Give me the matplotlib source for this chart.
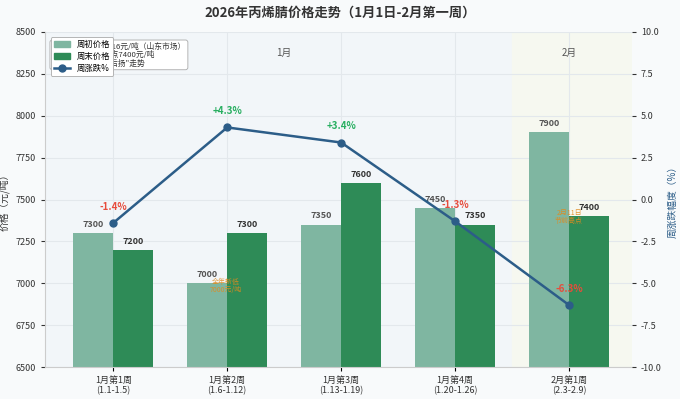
import numpy as np
import matplotlib
matplotlib.use("Agg")
import matplotlib.pyplot as plt
from matplotlib.patches import Patch
from matplotlib.lines import Line2D

plt.rcParams['font.family'] = ['Noto Sans CJK SC', 'DejaVu Sans']
plt.rcParams['axes.unicode_minus'] = False

# data
weeks = ['1月第1周\n(1.1-1.5)', '1月第2周\n(1.6-1.12)', '1月第3周\n(1.13-1.19)',
         '1月第4周\n(1.20-1.26)', '2月第1周\n(2.3-2.9)']
open_price = [7300, 7000, 7350, 7450, 7900]
close_price = [7200, 7300, 7600, 7350, 7400]
pct_change = [-1.4, 4.3, 3.4, -1.3, -6.3]

light = '#7fb6a1'
dark = '#2e8b57'
line_c = '#2c5d88'

fig = plt.figure(figsize=(6.8, 3.99), dpi=100)
fig.patch.set_facecolor('#f8fafb')
ax = fig.add_axes([0.066, 0.080, 0.863, 0.840])
ax.set_facecolor('#f2f6f9')

x = np.arange(len(weeks))
w = 0.35
ax.set_xlim(-0.6, 4.55)
ax.set_ylim(6500, 8500)

# 2月 shading
ax.axvspan(3.5, 4.55, color='#f6f8f0', zorder=0)
ax.grid(True, color='#e3e8ec', lw=0.8, zorder=0)
ax.set_axisbelow(True)

ax.bar(x - w / 2, open_price, w, color=light, zorder=2)
ax.bar(x + w / 2, close_price, w, color=dark, zorder=2)

for xi, v in zip(x, open_price):
    ax.text(xi - w / 2, v + 25, str(v), ha='center', va='bottom', fontsize=6.5,
            fontweight='bold', color='#555555', zorder=5)
for xi, v in zip(x, close_price):
    ax.text(xi + w / 2, v + 25, str(v), ha='center', va='bottom', fontsize=6.5,
            fontweight='bold', color='#333333', zorder=5)

ax.set_xticks(x)
ax.set_xticklabels(weeks, fontsize=6.5, color='#333333')
ax.set_yticks(np.arange(6500, 8501, 250))
ax.tick_params(axis='y', labelsize=6.5, colors='#333333', length=3)
ax.tick_params(axis='x', length=3)
ax.set_ylabel('价格（元/吨）', fontsize=7, color='#333333')
for s in ['top', 'right']:
    ax.spines[s].set_visible(False)
ax.spines['left'].set_color('#cccccc')
ax.spines['bottom'].set_color('#cccccc')

# month labels
ax.text(1.5, 8375, '1月', ha='center', va='center', fontsize=7, color='#555555')
ax.text(4.0, 8375, '2月', ha='center', va='center', fontsize=7, color='#555555')

# annotations
ax.text(0.99, 6985, '全年新低\n7000元/吨', ha='center', va='center', fontsize=5,
        color='#e08a1e', alpha=0.9, zorder=6, linespacing=1.1)
ax.text(4.0, 7395, '2月11日\n节前高点', ha='center', va='center', fontsize=5,
        color='#e08a1e', alpha=0.9, zorder=6, linespacing=1.1)

ax.text(-0.535, 8363, '1月丙烯腈均价7216元/吨（山东市场）\n2月第一周周内低点7400元/吨\n价格整体呈"先抑后扬"走势',
        ha='left', va='center', fontsize=5.6, color='#333333', linespacing=1.05,
        bbox=dict(boxstyle='round,pad=0.3', fc='white', ec='#aaaaaa', lw=0.6), zorder=6)

ax2 = ax.twinx()
ax2.set_ylim(-10, 10)
ax2.set_yticks(np.arange(-10, 10.1, 2.5))
ax2.plot(x, pct_change, color=line_c, lw=1.8, marker='o', ms=5, zorder=4)
for xi, v in zip(x, pct_change):
    c = '#27ae60' if v > 0 else '#e74c3c'
    s = f'+{v}%' if v > 0 else f'{v}%'
    ax2.annotate(s, (xi, v), xytext=(0, 8), textcoords='offset points', ha='center',
                 va='bottom', fontsize=7, fontweight='bold', color=c)
ax2.tick_params(axis='y', labelsize=6.5, colors='#333333', length=3)
ax2.set_ylabel('周涨跌幅度（%）', fontsize=7, color=line_c)
for s in ['top', 'right', 'left', 'bottom']:
    ax2.spines[s].set_visible(False)

handles = [Patch(color=light, label='周初价格'), Patch(color=dark, label='周末价格'),
           Line2D([], [], color=line_c, lw=1.8, marker='o', ms=5, label='周涨跌%')]
leg = ax2.legend(handles=handles, loc='upper left', fontsize=6, frameon=True,
                 bbox_to_anchor=(0.01, 0.985), borderaxespad=0, borderpad=0.35,
                 labelspacing=0.35, handlelength=2.0, fancybox=True, framealpha=1.0)
leg.get_frame().set_edgecolor('#aaaaaa')
leg.get_frame().set_linewidth(0.6)
leg.set_zorder(10)

fig.suptitle('2026年丙烯腈价格走势（1月1日-2月第一周）', fontsize=9.5, fontweight='bold',
             color='#333333', y=0.985)

fig.savefig('out.png', dpi=100, facecolor=fig.get_facecolor())
